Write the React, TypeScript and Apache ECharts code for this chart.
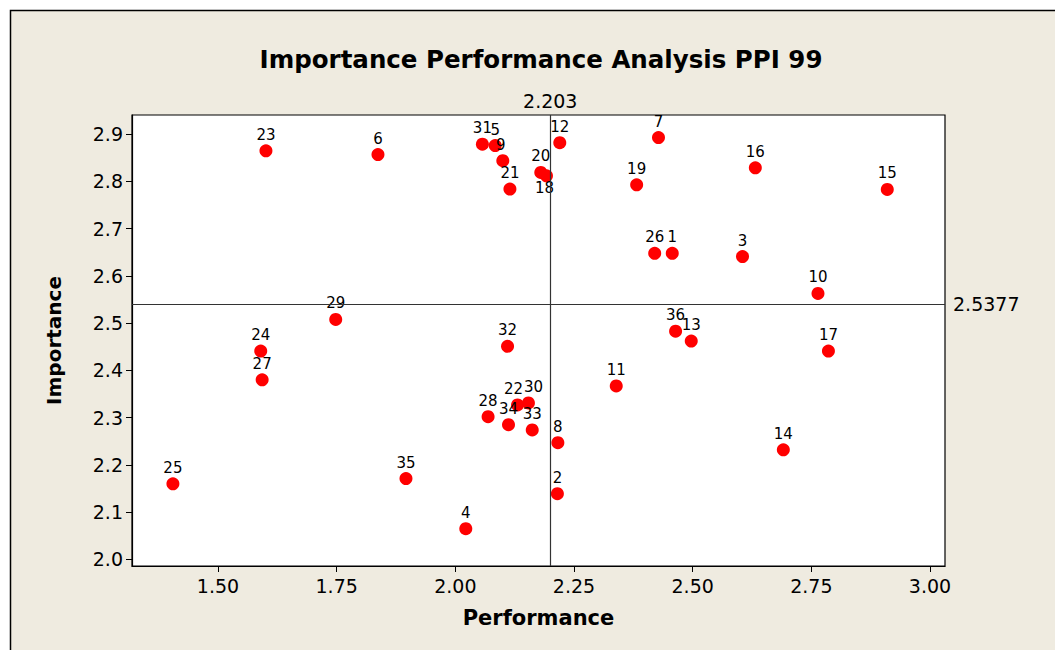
import React, { useEffect, useRef } from "react";
import * as echarts from "echarts";

const ids = ["23","6","31","5","9","21","20","18","12","7","19","16","15","26","1","3","10","29","24","27","32","36","13","17","11","22","30","28","34","33","8","14","2","25","35","4"];
const performance = [1.601,1.837,2.057,2.084,2.100,2.115,2.180,2.192,2.220,2.428,2.382,2.632,2.910,2.420,2.457,2.605,2.764,1.748,1.590,1.593,2.110,2.464,2.497,2.786,2.339,2.131,2.154,2.069,2.112,2.162,2.216,2.691,2.215,1.405,1.896,2.022];
const importance = [2.865,2.857,2.879,2.876,2.844,2.784,2.819,2.812,2.882,2.893,2.793,2.829,2.783,2.648,2.648,2.641,2.563,2.508,2.441,2.380,2.451,2.483,2.462,2.441,2.367,2.327,2.331,2.302,2.285,2.274,2.247,2.232,2.139,2.160,2.171,2.065];
const xTicks = [1.5, 1.75, 2.0, 2.25, 2.5, 2.75, 3.0];
const yTicks = [2.0, 2.1, 2.2, 2.3, 2.4, 2.5, 2.6, 2.7, 2.8, 2.9];
const perfMean = 2.203;
const impMean = 2.5377;

const FONT = "DejaVu Sans";

const labelOverrides: Record<string, any> = {
  "18": { position: "bottom", offset: [-2, -4] },
  "22": { offset: [-4, 0] },
  "30": { offset: [5, 0] },
  "9": { offset: [-2, 0] },
};

export default function App() {
  const ref = useRef<HTMLDivElement>(null);
  useEffect(() => {
    const chart = echarts.init(ref.current!, null, { renderer: "svg" });
    const data = ids.map((id, i) => ({
      value: [performance[i], importance[i]],
      name: id,
      label: labelOverrides[id],
    }));
    chart.setOption({
      animation: false,
      backgroundColor: "#ffffff",
      graphic: [
        {
          type: "rect",
          shape: { x: 10.5, y: 10.5, width: 1100, height: 700 },
          style: { fill: "#EFEBE0", stroke: "#000", lineWidth: 1.5 },
          z: -10,
        },
      ],
      title: {
        text: "Importance Performance Analysis PPI 99",
        left: 536,
        textAlign: "center",
        top: 42,
        textStyle: { fontFamily: FONT, fontWeight: "bold", fontSize: 24.5, color: "#000" },
      },
      grid: {
        left: 132,
        top: 115,
        right: 110,
        bottom: 84,
        show: true,
        backgroundColor: "#ffffff",
        borderColor: "#000",
        borderWidth: 1.2,
      },
      xAxis: {
        type: "value",
        min: 1.3188,
        max: 3.0316,
        name: "Performance",
        nameLocation: "middle",
        nameGap: 41,
        nameTextStyle: { fontFamily: FONT, fontWeight: "bold", fontSize: 21, color: "#000" },
        axisLine: { show: true, onZero: false, lineStyle: { color: "#000", width: 1.2 } },
        axisTick: { show: true, length: 6, customValues: xTicks, lineStyle: { color: "#000" } },
        axisLabel: {
          customValues: xTicks,
          formatter: (v: number) => v.toFixed(2),
          fontFamily: FONT,
          fontSize: 19,
          color: "#000",
          margin: 10,
        },
        splitLine: { show: false },
      },
      yAxis: {
        type: "value",
        min: 1.9859,
        max: 2.9407,
        name: "Importance",
        nameLocation: "middle",
        nameGap: 68,
        nameTextStyle: { fontFamily: FONT, fontWeight: "bold", fontSize: 20, color: "#000" },
        axisLine: { show: true, onZero: false, lineStyle: { color: "#000", width: 1.2 } },
        axisTick: { show: true, length: 6, customValues: yTicks, lineStyle: { color: "#000" } },
        axisLabel: {
          customValues: yTicks,
          formatter: (v: number) => v.toFixed(1),
          fontFamily: FONT,
          fontSize: 19,
          color: "#000",
          margin: 9,
        },
        splitLine: { show: false },
      },
      series: [
        {
          type: "scatter",
          symbol: "circle",
          symbolSize: 13,
          itemStyle: { color: "#FF0000", opacity: 1 },
          label: {
            show: true,
            position: "top",
            distance: 2,
            formatter: (p: any) => p.name,
            fontFamily: FONT,
            fontSize: 15,
            color: "#000",
          },
          data,
          markLine: {
            silent: true,
            symbol: "none",
            animation: false,
            lineStyle: { color: "#333", width: 1.2, type: "solid" },
            label: { fontFamily: FONT, fontSize: 19, color: "#000" },
            data: [
              { xAxis: perfMean, label: { position: "end", formatter: "2.203", distance: 5 } },
              { yAxis: impMean, label: { position: "end", formatter: "2.5377", distance: 8 } },
            ],
          },
        },
      ],
    });
    return () => chart.dispose();
  }, []);
  return (
    <div
      ref={ref}
      style={{ position: "fixed", left: 0, top: 0, width: 1055, height: 650 }}
    />
  );
}
